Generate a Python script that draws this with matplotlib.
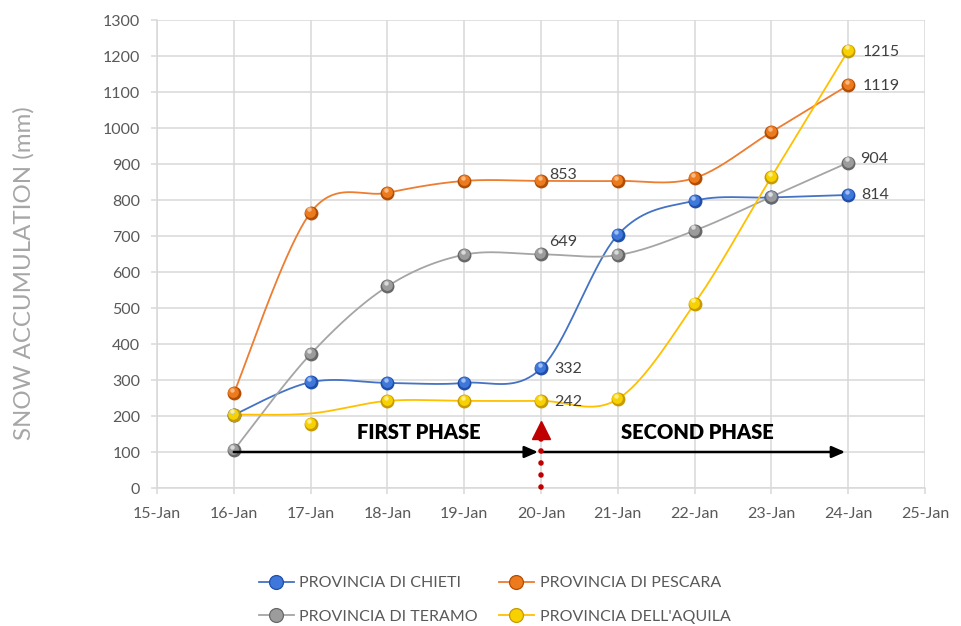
import numpy as np
import matplotlib
matplotlib.use("Agg")
import matplotlib.pyplot as plt
from matplotlib.lines import Line2D
from matplotlib.transforms import offset_copy

plt.rcParams['font.family'] = ['Lato', 'DejaVu Sans']

# ---- data -------------------------------------------------------------
axis_dates = ['15-Jan', '16-Jan', '17-Jan', '18-Jan', '19-Jan', '20-Jan',
              '21-Jan', '22-Jan', '23-Jan', '24-Jan', '25-Jan']
obs_dates = ['16-Jan', '17-Jan', '18-Jan', '19-Jan', '20-Jan',
             '21-Jan', '22-Jan', '23-Jan', '24-Jan']

chieti = [203, 294, 292, 292, 332, 703, 798, 807, 814]
pescara = [263, 765, 820, 853, 853, 853, 861, 989, 1119]
teramo = [105, 372, 560, 648, 649, 647, 715, 809, 904]
aquila = [204, 177, 242, 242, 242, 247, 512, 864, 1215]
# the L'Aquila curve runs above its 17-Jan reading
aquila_curve = [204, 207, 242, 242, 242, 247, 512, 864, 1215]

series_names = ['PROVINCIA DI CHIETI', 'PROVINCIA DI PESCARA',
                'PROVINCIA DI TERAMO', "PROVINCIA DELL'AQUILA"]

# value labels: (series index, date)
value_labels = [(1, '20-Jan'), (2, '20-Jan'), (0, '20-Jan'), (3, '20-Jan'),
                (3, '24-Jan'), (1, '24-Jan'), (2, '24-Jan'), (0, '24-Jan')]

phase_names = ['FIRST PHASE', 'SECOND PHASE']
phase_bounds = ['16-Jan', '20-Jan', '24-Jan']

# ---- style ------------------------------------------------------------
line_colors = ['#4472C4', '#ED7D31', '#A5A5A5', '#FFC000']
sphere_dark = ['#1F4FA8', '#B04E06', '#686868', '#C79A00']
sphere_mid = ['#3F78DA', '#EE7A1E', '#9C9C9C', '#F7D100']
sphere_hi = ['#A9C6F5', '#F9C28F', '#E2E2E2', '#FFF2A0']
grid_c = '#D9D9D9'
text_c = '#595959'
MS = 10


def day(label):
    return int(label.split('-')[0])


def smooth(xs, ys, n=40):
    """Bezier smoothing through the points (Catmull-Rom style)."""
    p = np.column_stack([xs, ys]).astype(float)
    m = len(p)
    out = []
    t = np.linspace(0, 1, n)[:, None]
    for i in range(m - 1):
        p0, p3 = p[i], p[i + 1]
        prev = p[i - 1] if i > 0 else p[i]
        nxt = p[i + 2] if i + 2 < m else p[i + 1]
        c1 = p0 + (p3 - prev) / 6.0
        c2 = p3 - (nxt - p0) / 6.0
        seg = ((1 - t) ** 3) * p0 + 3 * ((1 - t) ** 2) * t * c1 \
            + 3 * (1 - t) * t ** 2 * c2 + t ** 3 * p3
        out.append(seg if i == 0 else seg[1:])
    out = np.vstack(out)
    return out[:, 0], out[:, 1]


def spheres(ax, xs, ys, i, z=4):
    """Shaded round markers."""
    ax.plot(xs, ys, linestyle='none', marker='o', markersize=MS,
            markerfacecolor=sphere_dark[i], markeredgewidth=0, zorder=z)
    tr = offset_copy(ax.transData, fig=ax.figure, x=-0.6, y=1.0, units='dots')
    ax.plot(xs, ys, linestyle='none', marker='o', markersize=MS * 0.78,
            markerfacecolor=sphere_mid[i], markeredgewidth=0, zorder=z + 0.1,
            transform=tr)
    tr2 = offset_copy(ax.transData, fig=ax.figure, x=-1.5, y=3.2, units='dots')
    ax.plot(xs, ys, linestyle='none', marker='o', markersize=MS * 0.32,
            markerfacecolor=sphere_hi[i], markeredgewidth=0, zorder=z + 0.2,
            transform=tr2, alpha=0.9)


fig = plt.figure(figsize=(9.61, 6.26), dpi=100)
ax = fig.add_axes([157 / 961, 1 - 488 / 626, (925 - 157) / 961, (488 - 20) / 626])

ax.set_xlim(15, 25)
ax.set_ylim(0, 1300)
ax.set_xticks([day(d) for d in axis_dates])
ax.set_xticklabels(axis_dates)
ax.set_yticks(np.arange(0, 1301, 100))
ax.grid(True, color=grid_c, linewidth=1.1)
ax.set_axisbelow(True)
for s in ['top', 'right']:
    ax.spines[s].set_visible(False)
for s in ['left', 'bottom']:
    ax.spines[s].set_color(grid_c)
    ax.spines[s].set_linewidth(1.1)
ax.tick_params(axis='both', colors=grid_c, length=4, width=1.1,
               labelcolor=text_c, labelsize=11.5)
ax.tick_params(axis='x', pad=10)
ax.tick_params(axis='y', pad=8)

all_series = [chieti, pescara, teramo, aquila]
curves = [chieti, pescara, teramo, aquila_curve]
xs_all = [day(d) for d in obs_dates]
handles = []
for i, vals in enumerate(all_series):
    sx, sy = smooth(xs_all, curves[i])
    ax.plot(sx, sy, color=line_colors[i], linewidth=1.3, zorder=3)
    spheres(ax, xs_all, vals, i)
    handles.append(Line2D([], [], color=line_colors[i], linewidth=1.3,
                          marker='o', markersize=MS,
                          markerfacecolor=sphere_mid[i],
                          markeredgecolor=sphere_dark[i],
                          markeredgewidth=0.9))

# value labels
label_offsets = {('20-Jan', 1): (8, 6), ('20-Jan', 2): (8, 12),
                 ('20-Jan', 0): (13, -1), ('20-Jan', 3): (13, -1),
                 ('24-Jan', 3): (14, -1), ('24-Jan', 1): (14, -1),
                 ('24-Jan', 2): (12, 4), ('24-Jan', 0): (13, 0)}
for si, d in value_labels:
    v = all_series[si][obs_dates.index(d)]
    dx, dy = label_offsets[(d, si)]
    ax.annotate(f'{v}', (day(d), v), xytext=(dx * 0.72, dy * 0.72),
                textcoords='offset points', ha='left', va='center',
                fontsize=11.5, color='#404040', zorder=6)

# phase arrows
arrow_y = 100
for a, b in zip(phase_bounds[:-1], phase_bounds[1:]):
    ax.annotate('', xy=(day(b) - 0.04, arrow_y), xytext=(day(a), arrow_y),
                arrowprops=dict(arrowstyle='-|>,head_length=0.8,head_width=0.35',
                                color='black', linewidth=1.8,
                                shrinkA=0, shrinkB=0), zorder=5)
phase_text_x = [18.41, 22.04]
for name, px in zip(phase_names, phase_text_x):
    ax.text(px, 155, name, ha='center', va='center', fontsize=14.5,
            fontweight='heavy', color='black', zorder=6)

# red marker between the two phases
split = day(phase_bounds[1])
ax.plot([split, split], [2, 140], color='#C00000', linewidth=4,
        linestyle=(0, (0.01, 2.15)), dash_capstyle='round', zorder=5,
        clip_on=False)
ax.plot([split], [162], marker='^', markersize=13, color='#C00000',
        linestyle='none', zorder=6)

fig.text(24 / 961, 1 - 273 / 626, 'SNOW ACCUMULATION (mm)', rotation=90,
         ha='center', va='center', fontsize=17.3, color='#A6A6A6')

leg_order = [0, 2, 1, 3]
fig.legend([handles[k] for k in leg_order],
           [series_names[k] for k in leg_order],
           ncol=2, loc='center', bbox_to_anchor=(0.5146, 1 - 600 / 626),
           frameon=False, fontsize=11.5, labelcolor=text_c, handlelength=2.2,
           columnspacing=1.3, labelspacing=1.2, handletextpad=0.35)

fig.savefig('out.png', dpi=100)
